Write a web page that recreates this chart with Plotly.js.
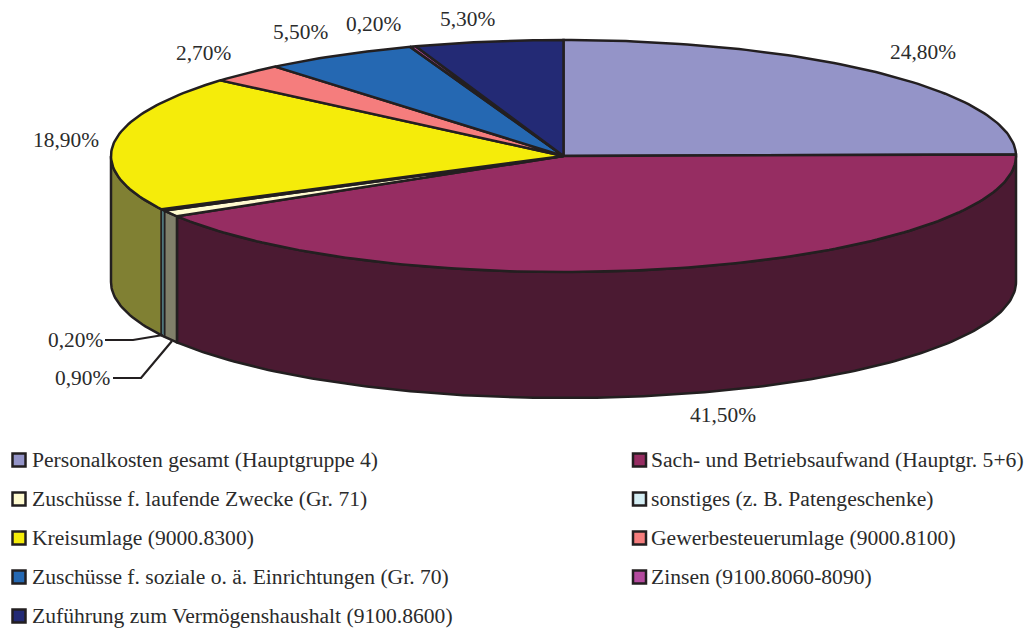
<!DOCTYPE html>
<html><head><meta charset="utf-8">
<script src="https://cdn.plot.ly/plotly-3.0.1.min.js"></script>
<style>html,body{margin:0;padding:0;background:#fff}</style>
</head><body><div id="chart" style="width:1029px;height:632px"></div>
<script>
// Data
const categories = [
  "Personalkosten gesamt (Hauptgruppe 4)",
  "Sach- und Betriebsaufwand (Hauptgr. 5+6)",
  "Zuschüsse f. laufende Zwecke (Gr. 71)",
  "sonstiges (z. B. Patengeschenke)",
  "Kreisumlage (9000.8300)",
  "Gewerbesteuerumlage (9000.8100)",
  "Zuschüsse f. soziale o. ä. Einrichtungen (Gr. 70)",
  "Zinsen (9100.8060-8090)",
  "Zuführung zum Vermögenshaushalt (9100.8600)"
];
const values = [24.8, 41.5, 0.9, 0.2, 18.9, 2.7, 5.5, 0.2, 5.3];

// Styles
const topColors  = ["#9494c8","#962d62","#fffbd0","#d4eef4","#f5ec0a","#f57d7d","#2568b2","#b44a9e","#232a75"];
const wallColors = ["#4a4a64","#4b1a32","#80806a","#6fb4be","#808033","#7a3e3e","#133459","#5a254f","#12153a"];
const ink = "#231f20";
const textInk = "#2b2b2b";
const FONT = "Liberation Serif";
const FONT_SIZE = 21.4;
const LEGEND_FONT_SIZE = 21.6;

// Geometry of the tilted pie, in pixel-scaled axis units
const cx = 563.5, cy = 156, rx = 452.5, ry = 116, depth = 126;

// Label anchors (centres of the percentage labels), same order as values
const labelX = [922.5, 722.5, 82.5, 75, 65.5, 203.5, 300.5, 373, 467];
const labelY = [52, 415, 378, 340, 140, 53, 32, 24, 19];
// Leader lines for the two thin slices
const leaderX = [[105,133,163],[113,141,172]];
const leaderY = [[340,340,335],[378,378,341]];
// Legend slots
const legendCol = [19,639.5,19,639.5,19,639.5,19,639.5,19];
const legendTextCol = [32,651,32,651,32,651,32,651,32];
const legendRow = [460,460,499,499,538,538,577,577,616];
const thinWall = 3; // index of the sliver whose wall is drawn last with a finer line

const total = values.reduce((a,b)=>a+b,0);
const pct = v => v.toFixed(2).replace('.',',') + '%';
const px = a => cx + rx*Math.sin(a*Math.PI/180);
const py = a => cy - ry*Math.cos(a*Math.PI/180);
function arc(a0,a1){ const r=[]; const n=Math.max(2,Math.ceil(Math.abs(a1-a0)))+1;
  for(let i=0;i<n;i++) r.push(a0+(a1-a0)*i/(n-1)); return r; }

const traces=[]; let acc=0; const wedges=[];
values.forEach((v,i)=>{ const a0=acc/total*360; acc+=v; wedges.push([a0,acc/total*360]); });

// Side walls: only the front half (90..270 degrees) is visible
const wallOrder = wedges.map((_,i)=>i).filter(i=>i!==thinWall).concat([thinWall]);
wallOrder.forEach(i=>{
  const [a0,a1]=wedges[i];
  const s=Math.max(a0,90), e=Math.min(a1,270);
  if(e<=s) return;
  const A=arc(s,e);
  const x=A.map(px).concat(A.slice().reverse().map(px));
  const y=A.map(py).concat(A.slice().reverse().map(a=>py(a)+depth));
  x.push(x[0]); y.push(y[0]);
  traces.push({type:'scatter',mode:'lines',x,y,fill:'toself',fillcolor:wallColors[i],
    line:{color:ink,width:i===thinWall?1.6:2.5},name:categories[i],showlegend:false,hoverinfo:'name'});
});
// Top faces
wedges.forEach(([a0,a1],i)=>{
  const A=arc(a0,a1);
  const x=[cx].concat(A.map(px),[cx]);
  const y=[cy].concat(A.map(py),[cy]);
  traces.push({type:'scatter',mode:'lines',x,y,fill:'toself',fillcolor:topColors[i],
    line:{color:ink,width:2.5},name:categories[i],showlegend:false,hoverinfo:'name'});
});
// Leader lines
leaderX.forEach((lx,i)=>traces.push({type:'scatter',mode:'lines',x:lx,y:leaderY[i],
  line:{color:ink,width:2.2},showlegend:false,hoverinfo:'skip'}));
// Legend swatches
categories.forEach((c,i)=>traces.push({type:'scatter',mode:'markers',x:[legendCol[i]],y:[legendRow[i]],
  marker:{symbol:'square',size:13,color:topColors[i],line:{color:ink,width:2.5}},
  name:c,showlegend:false,hoverinfo:'name'}));

const annotations=[];
values.forEach((v,i)=>annotations.push({x:labelX[i],y:labelY[i],text:pct(v),showarrow:false,
  xanchor:'center',yanchor:'middle',font:{family:FONT,size:FONT_SIZE,color:textInk}}));
categories.forEach((c,i)=>annotations.push({x:legendTextCol[i],y:legendRow[i],text:c,showarrow:false,
  xanchor:'left',yanchor:'middle',xshift:-2,font:{family:FONT,size:LEGEND_FONT_SIZE,color:textInk}}));

const layout={width:1029,height:632,margin:{l:0,r:0,t:0,b:0},paper_bgcolor:'#fff',plot_bgcolor:'#fff',
  showlegend:false,hovermode:'closest',
  xaxis:{range:[0,1029],visible:false,fixedrange:true},
  yaxis:{range:[632,0],visible:false,fixedrange:true},
  annotations};
Plotly.newPlot('chart',traces,layout,{displayModeBar:false,staticPlot:false});
</script></body></html>
